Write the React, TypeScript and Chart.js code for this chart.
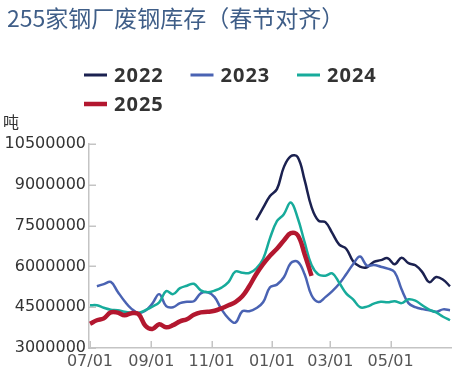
import React, { useEffect, useRef } from "react";
import { Chart, registerables } from "chart.js";

Chart.register(...registerables);

const TITLE = "255家钢厂废钢库存（春节对齐）";
const UNIT = "吨";

// days since 07/01 (weekly, spring-festival aligned)
const weekDays = [
  0, 7, 14, 21, 28, 35, 42, 49, 56, 63, 70, 77, 84, 91, 98, 105, 112, 119, 126, 133,
  140, 147, 154, 161, 168, 175, 182, 189, 196, 203, 210, 217, 224, 231, 238, 245, 252,
  259, 266, 273, 280, 287, 294, 301, 308, 315, 322, 329, 336, 343, 350, 357, 364,
];

const tickDays = [0, 62, 123, 184, 243, 304];
const tickLabels = ["07/01", "09/01", "11/01", "01/01", "03/01", "05/01"];

const seriesNames = ["2022", "2023", "2024", "2025"];

const s2022 = [
  null, null, null, null, null, null, null, null, null, null,
  null, null, null, null, null, null, null, null, null, null,
  null, null, null, null, 7700000,
  8150000, 8590000, 8840000, 9650000, 10050000,
  10020000, 9170000, 8180000, 7680000, 7630000, 7220000, 6800000, 6650000, 6190000, 5990000,
  5970000, 6170000, 6230000, 6300000, 6080000, 6320000, 6120000, 6040000, 5790000, 5420000,
  5610000, 5510000, 5270000,
];

const s2023 = [
  null,
  5270000, 5350000, 5430000, 5070000, 4720000, 4440000, 4290000, 4370000, 4630000, 4980000,
  4540000, 4500000, 4650000, 4700000, 4720000, 5010000, 5050000, 4870000, 4420000, 4090000,
  3930000, 4350000, 4350000, 4460000, 4680000, 5230000, 5330000, 5600000, 6120000, 6170000,
  5710000, 4940000, 4690000, 4870000, 5090000, 5360000, 5710000, 6080000, 6360000, 6030000,
  6050000, 5990000, 5920000, 5790000, 5160000, 4650000, 4500000, 4430000, 4390000, 4330000,
  4420000, 4390000,
];

const s2024 = [
  4570000, 4570000, 4480000, 4410000, 4390000, 4330000, 4300000, 4290000, 4390000, 4520000,
  4680000, 5090000, 4980000, 5200000, 5290000, 5360000, 5120000, 5050000, 5110000, 5220000,
  5420000, 5810000, 5770000, 5760000, 5920000, 6270000, 7040000, 7660000, 7920000, 8350000,
  7780000, 6890000, 6050000, 5700000, 5660000, 5740000, 5400000, 5010000, 4790000, 4500000,
  4520000, 4630000, 4700000, 4680000, 4720000, 4650000, 4790000, 4740000, 4570000, 4410000,
  4310000, 4150000, 4020000,
];

const s2025 = [
  3890000, 4020000, 4090000, 4310000, 4300000, 4200000, 4280000, 4250000, 3820000, 3700000,
  3870000, 3760000, 3840000, 3980000, 4060000, 4220000, 4310000, 4330000, 4370000, 4460000,
  4570000, 4690000, 4900000, 5270000, 5710000, 6080000, 6390000, 6650000, 6950000, 7220000,
  7150000, 6450000, 5650000,
  null, null, null, null, null, null, null, null, null, null,
  null, null, null, null, null, null, null, null, null, null,
];

const yMin = 3000000;
const yMax = 10500000;
const yStep = 1500000;

const COLORS = ["#1b2150", "#4a63b3", "#17ab9b", "#b3172f"];
const WIDTHS = [2.5, 2.5, 2.5, 4.5];
const AXIS_COLOR = "#c4c4c4";

function toPoints(arr: (number | null)[]) {
  return weekDays.map((d, i) => ({ x: d, y: arr[i] === undefined ? null : arr[i] }));
}

const decorPlugin = {
  id: "decor",
  beforeDatasetsDraw(chart: any) {
    const ctx = chart.ctx;
    const { left, bottom } = chart.chartArea;
    ctx.save();
    ctx.strokeStyle = AXIS_COLOR;
    ctx.lineWidth = 1.5;
    const ys = chart.scales.y;
    ys.ticks.forEach((t: any) => {
      const y = Math.round(ys.getPixelForValue(t.value)) + 0.25;
      ctx.beginPath();
      ctx.moveTo(left, y);
      ctx.lineTo(left + 7, y);
      ctx.stroke();
    });
    const xs = chart.scales.x;
    xs.ticks.forEach((t: any) => {
      const x = Math.round(xs.getPixelForValue(t.value)) + 0.25;
      ctx.beginPath();
      ctx.moveTo(x, bottom);
      ctx.lineTo(x, bottom - 7);
      ctx.stroke();
    });
    ctx.restore();
  },
  afterDraw(chart: any) {
    const ctx = chart.ctx;
    ctx.save();
    // title
    ctx.font = '23px "Noto Sans CJK SC"';
    ctx.fillStyle = "#3f5e88";
    ctx.textBaseline = "alphabetic";
    ctx.textAlign = "left";
    ctx.fillText(TITLE, 7, 27);
    // unit
    ctx.font = '16px "Noto Sans CJK SC"';
    ctx.fillStyle = "#333333";
    ctx.fillText(UNIT, 3, 128);
    // legend
    const ds = chart.data.datasets;
    ctx.font = 'bold 20px "Noto Sans"';
    try { (ctx as any).letterSpacing = "1px"; } catch (e) {}
    ds.forEach((d: any, i: number) => {
      const row = Math.floor(i / 3);
      const col = i % 3;
      const x0 = 84 + col * 106.5;
      const cy = 75 + row * 29;
      ctx.fillStyle = d.borderColor;
      const h = i === 3 ? 4.5 : 3;
      ctx.fillRect(x0, cy - h / 2, 23, h);
      ctx.fillStyle = "#333333";
      ctx.fillText(d.label, x0 + 30, cy + 7);
    });
    ctx.restore();
  },
};

export default function App() {
  const ref = useRef<HTMLCanvasElement | null>(null);

  useEffect(() => {
    if (!ref.current) return;
    const seriesData = [s2022, s2023, s2024, s2025];
    const chart = new Chart(ref.current, {
      type: "line",
      data: {
        datasets: seriesNames.map((name, i) => ({
          label: name,
          data: toPoints(seriesData[i] as (number | null)[]),
          borderColor: COLORS[i],
          backgroundColor: COLORS[i],
          borderWidth: WIDTHS[i],
          pointRadius: 0,
          pointHoverRadius: 0,
          tension: 0.4,
          fill: false,
          spanGaps: false,
          order: 3 - i,
        })),
      },
      options: {
        animation: false,
        responsive: false,
        maintainAspectRatio: false,
        layout: { padding: { top: 144, left: 0, right: 6, bottom: 0 } },
        plugins: {
          legend: { display: false },
          title: { display: false },
          tooltip: { enabled: false },
        },
        scales: {
          x: {
            type: "linear",
            min: -1,
            max: 365,
            grid: { display: false, drawTicks: false },
            border: { display: true, color: AXIS_COLOR, width: 1.5 },
            afterBuildTicks: (scale: any) => {
              scale.ticks = tickDays.map((v) => ({ value: v }));
            },
            afterFit: (scale: any) => {
              scale.height = 26;
            },
            ticks: {
              autoSkip: false,
              maxRotation: 0,
              padding: 4,
              color: "#555555",
              font: { family: "DejaVu Sans", size: 16 },
              callback: (v: any) => {
                const idx = tickDays.indexOf(Number(v));
                return idx >= 0 ? tickLabels[idx] : "";
              },
            },
          },
          y: {
            type: "linear",
            min: yMin,
            max: yMax,
            grid: { display: false, drawTicks: false },
            border: { display: true, color: AXIS_COLOR, width: 1.5 },
            afterFit: (scale: any) => {
              scale.width = 89;
            },
            ticks: {
              stepSize: yStep,
              padding: 3,
              color: "#333333",
              font: { family: "DejaVu Sans", size: 16 },
              callback: (v: any) => String(v),
            },
          },
        },
      },
      plugins: [decorPlugin],
    });
    return () => chart.destroy();
  }, []);

  return (
    <div style={{ position: "fixed", left: 0, top: 0, width: 457, height: 374, background: "#ffffff" }}>
      <canvas ref={ref} width={457} height={374} style={{ display: "block", width: 457, height: 374 }} />
    </div>
  );
}
